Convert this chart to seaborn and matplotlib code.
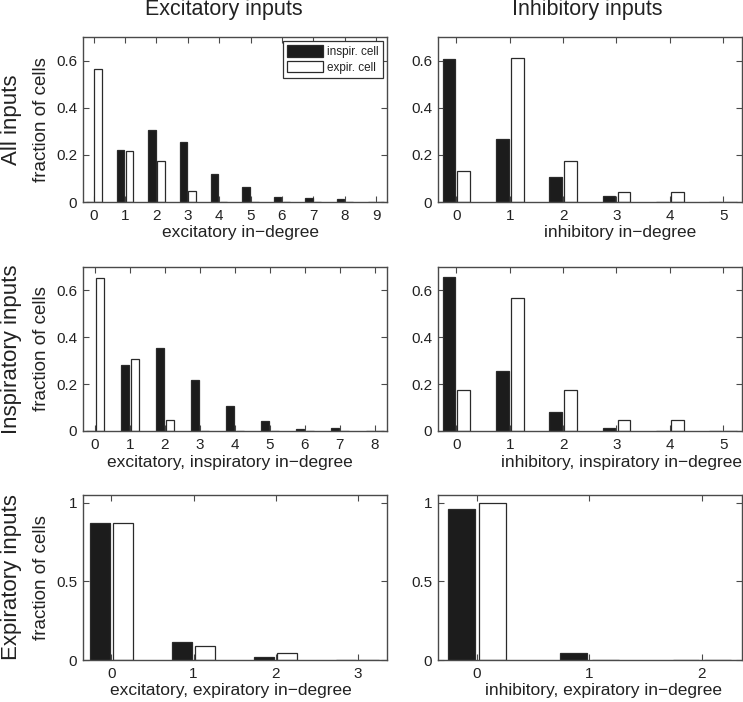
import numpy as np
import pandas as pd
import matplotlib
matplotlib.use("Agg")
import matplotlib.pyplot as plt
import seaborn as sns

# fraction of cells per in-degree
exc_all_insp = [0, 0.221, 0.304, 0.256, 0.117, 0.065, 0.021, 0.017, 0.011, 0]
exc_all_exp = [0.566, 0.218, 0.175, 0.045, 0, 0, 0, 0, 0, 0]
inh_all_insp = [0.608, 0.269, 0.105, 0.025, 0, 0]
inh_all_exp = [0.132, 0.611, 0.175, 0.044, 0.044, 0]

exc_insp_insp = [0, 0.281, 0.352, 0.217, 0.106, 0.042, 0.007, 0.011, 0]
exc_insp_exp = [0.652, 0.306, 0.045, 0, 0, 0, 0, 0, 0]
inh_insp_insp = [0.655, 0.257, 0.082, 0.014, 0, 0]
inh_insp_exp = [0.175, 0.566, 0.175, 0.045, 0.045, 0]

exc_exp_insp = [0.872, 0.113, 0.021, 0]
exc_exp_exp = [0.872, 0.087, 0.045, 0]
inh_exp_insp = [0.962, 0.045, 0]
inh_exp_exp = [1.0, 0, 0]

cells = ["inspir. cell", "expir. cell"]
col_titles = ["Excitatory inputs", "Inhibitory inputs"]
row_titles = ["All inputs", "Inspiratory inputs", "Expiratory inputs"]
xlabels = [
    ["excitatory in\u2212degree", "inhibitory in\u2212degree"],
    ["excitatory, inspiratory in\u2212degree", "inhibitory, inspiratory in\u2212degree"],
    ["excitatory, expiratory in\u2212degree", "inhibitory, expiratory in\u2212degree"],
]

panels = [
    [(exc_all_insp, exc_all_exp), (inh_all_insp, inh_all_exp)],
    [(exc_insp_insp, exc_insp_exp), (inh_insp_insp, inh_insp_exp)],
    [(exc_exp_insp, exc_exp_exp), (inh_exp_insp, inh_exp_exp)],
]

sns.set_style("ticks")
plt.rcParams["font.family"] = ["Liberation Sans", "DejaVu Sans"]
plt.rcParams["text.color"] = "#222222"
plt.rcParams["axes.labelcolor"] = "#222222"

W, H = 743, 702
fig = plt.figure(figsize=(W / 100, H / 100), dpi=100)

# axes boxes in pixels: left, right / top, bottom
col_px = [(82.7, 387.3), (437.7, 742.3)]
row_px = [(37, 202), (266.7, 431), (495, 660)]
# x label centres in pixels (they sit a bit off-centre in the original)
xlabel_cx = [[240, 620], [230, 621], [231, 603]]

palette = {"inspir. cell": "#1c1c1c", "expir. cell": "white"}
edge = "#4a4a4a"

for r in range(3):
    for c in range(2):
        insp, expi = panels[r][c]
        n = len(insp)
        df = pd.DataFrame({
            "degree": list(range(n)) * 2,
            "cell": [cells[0]] * n + [cells[1]] * n,
            "fraction": list(insp) + list(expi),
        })
        x0, x1 = col_px[c]
        y0, y1 = row_px[r]
        ax = fig.add_axes([x0 / W, 1 - y1 / H, (x1 - x0) / W, (y1 - y0) / H])
        sns.barplot(
            data=df, x="degree", y="fraction", hue="cell", hue_order=cells,
            palette=palette, saturation=1, width=0.56, gap=0.15,
            edgecolor="#2a2a2a", linewidth=0.9, errorbar=None,
            legend=(r == 0 and c == 0), ax=ax,
        )
        ax.set_xlim(-0.35, n - 1 + 0.36)
        if r < 2:
            ax.set_ylim(0, 0.7)
            ax.set_yticks([0, 0.2, 0.4, 0.6])
            ax.set_yticklabels(["0", "0.2", "0.4", "0.6"])
        else:
            ax.set_ylim(0, 1.05)
            ax.set_yticks([0, 0.5, 1])
            ax.set_yticklabels(["0", "0.5", "1"])
        ax.set_xticks(range(n))
        ax.set_xticklabels([str(i) for i in range(n)])
        for s in ax.spines.values():
            s.set_visible(True)
            s.set_color(edge)
            s.set_linewidth(1.0)
        ax.tick_params(direction="in", top=True, right=True, length=4,
                       width=0.8, color=edge, labelsize=11, labelcolor="#222222")
        ax.tick_params(axis="x", pad=5)
        ax.tick_params(axis="y", pad=4)
        ax.set_xlabel(xlabels[r][c], fontsize=12.5)
        lx = (xlabel_cx[r][c] - x0) / (x1 - x0)
        ax.xaxis.set_label_coords(lx, -31 / (y1 - y0), transform=ax.transAxes)
        ax.xaxis.label.set_va("center")
        if c == 0:
            ax.set_ylabel("fraction of cells", fontsize=13.5, labelpad=4)
        else:
            ax.set_ylabel("")
        if r == 0 and c == 0:
            leg = ax.legend(loc="upper right", fontsize=8.5, frameon=True,
                            fancybox=False, framealpha=1, edgecolor="#333333",
                            handlelength=3.0, handleheight=1.1,
                            borderaxespad=0.35, borderpad=0.35,
                            labelspacing=0.25, handletextpad=0.4)
            leg.get_frame().set_linewidth(0.9)

fig.text(224 / W, 1 - 10 / H, col_titles[0], ha="center", va="center", fontsize=15.5)
fig.text(587 / W, 1 - 10 / H, col_titles[1], ha="center", va="center", fontsize=15.5)
for r, t in enumerate(row_titles):
    yc = (row_px[r][0] + row_px[r][1]) / 2
    fig.text(12 / W, 1 - yc / H, t, rotation=90, ha="center", va="center", fontsize=16)

fig.savefig("out.png", dpi=100)
